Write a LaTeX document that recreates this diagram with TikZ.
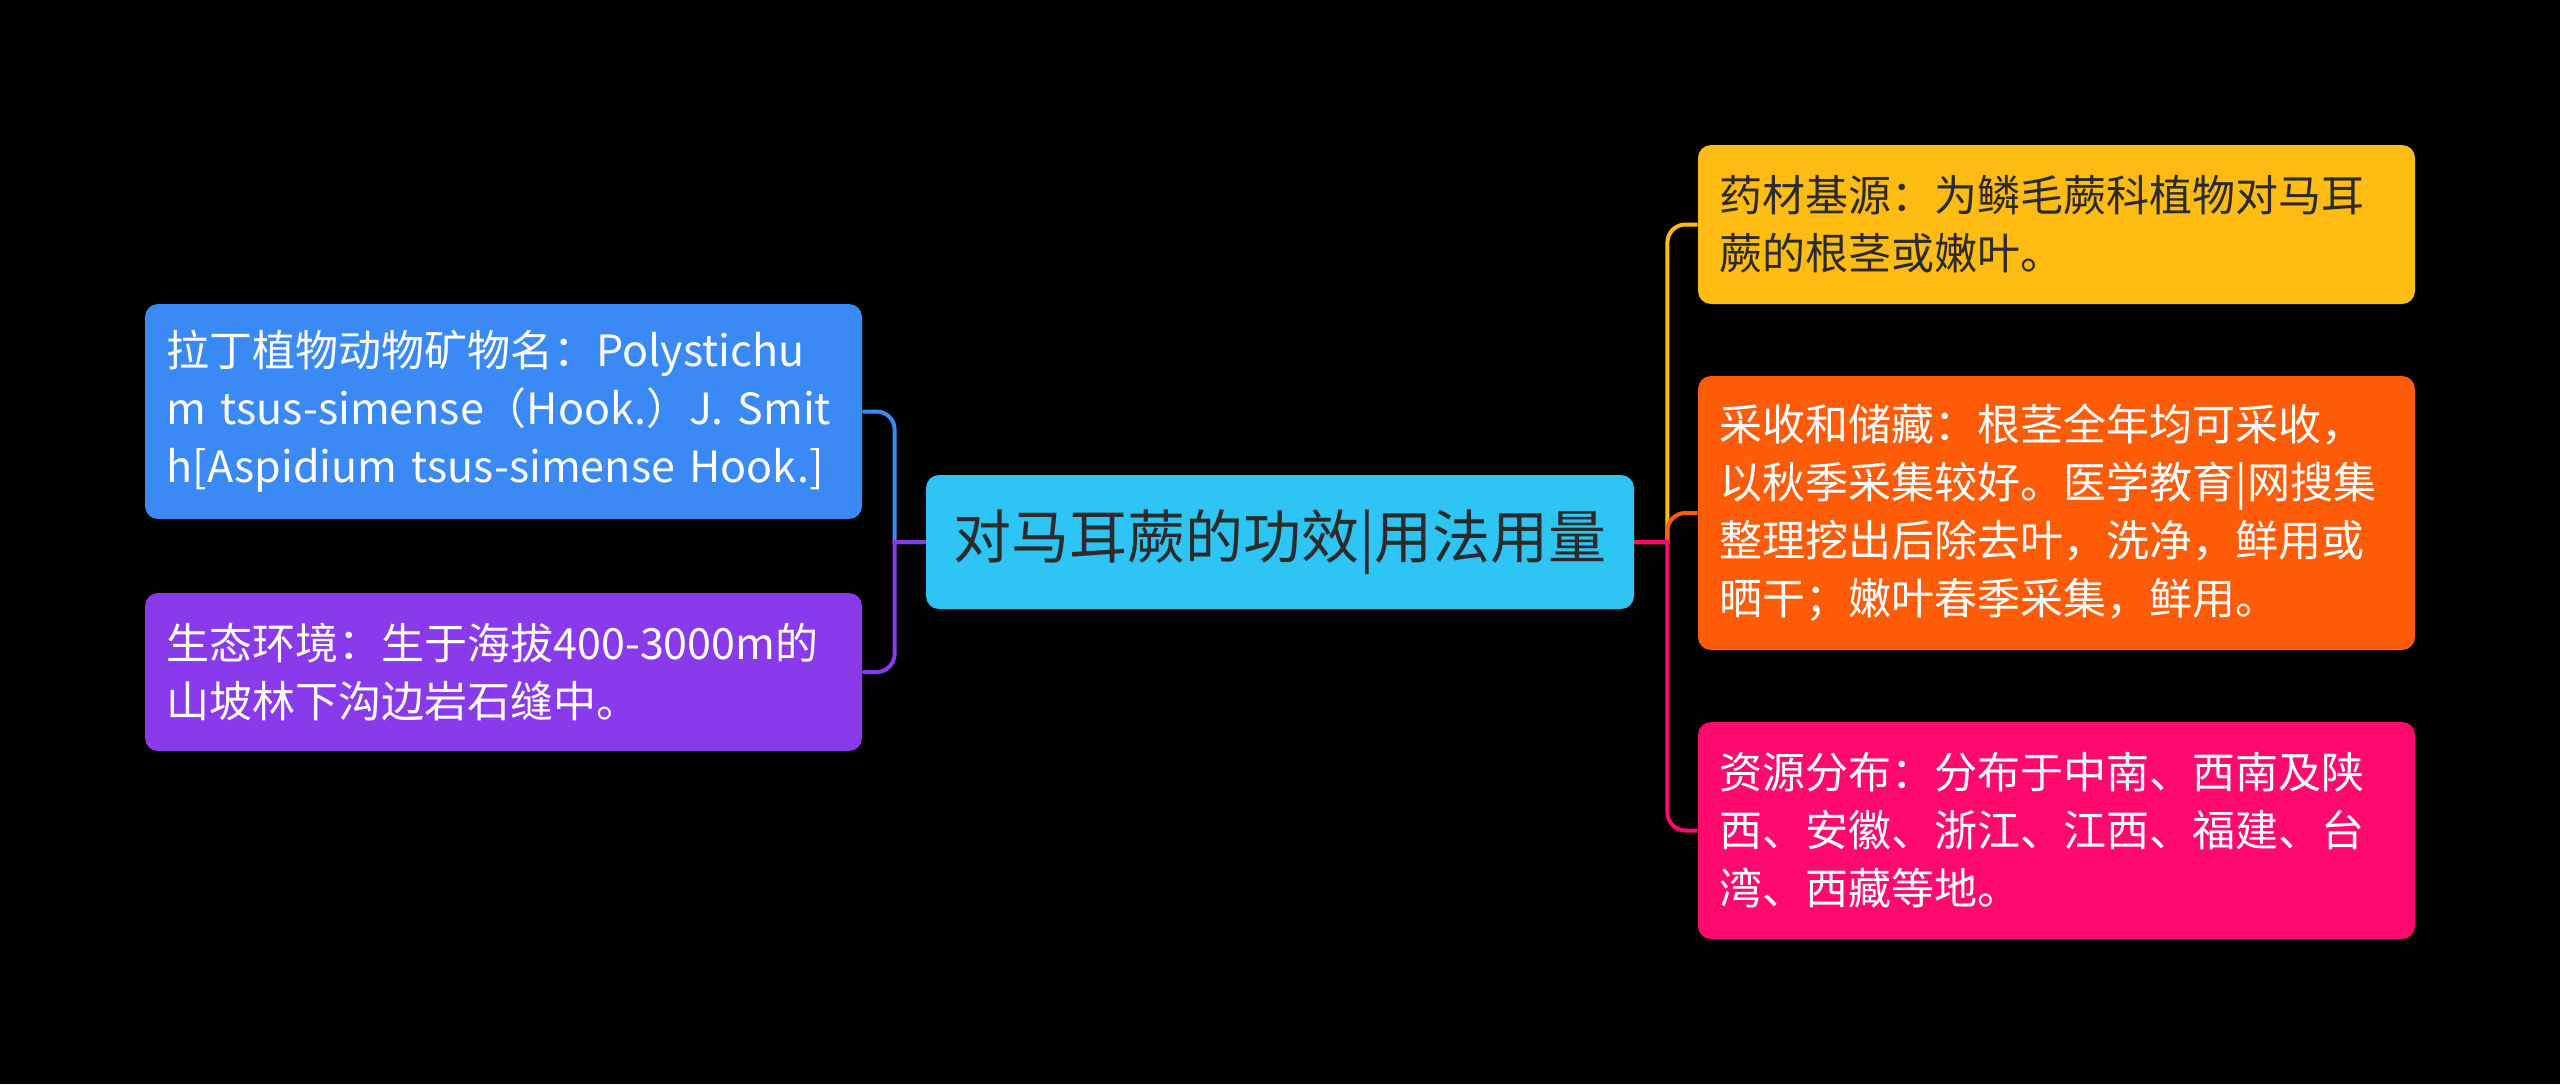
\documentclass[tikz,border=0pt]{standalone}
\usepackage{fontspec}
\setmainfont{Noto Sans CJK SC}
\definecolor{bg}{HTML}{000000}
\definecolor{cmain}{HTML}{2EC4F4}
\definecolor{cblue}{HTML}{3B89F5}
\definecolor{cpurple}{HTML}{893AEB}
\definecolor{camber}{HTML}{FFBD14}
\definecolor{corange}{HTML}{FF5C0A}
\definecolor{cpink}{HTML}{FF0A6E}
\definecolor{darktext}{HTML}{2B2B2B}
\tikzset{
  box/.style={rounded corners=6.5pt, minimum width=358.5pt, text width=337pt, inner sep=0pt, align=left,
    font=\fontsize{21.5}{29}\selectfont, text=white},
  mainbox/.style={rounded corners=6.5pt, fill=cmain, minimum width=354pt, minimum height=67pt,
    inner sep=0pt, font=\fontsize{29}{34}\selectfont, text=darktext},
  link/.style={line width=2pt}
}
\begin{document}
\begin{tikzpicture}[x=0.5pt,y=-0.5pt]
\fill[bg] (0,0) rectangle (2560,1084);
\useasboundingbox (0,0) rectangle (2560,1084);

\node[mainbox] (c) at (1280,542) {对马耳蕨的功效|用法用量};

\node[box, fill=cblue, minimum height=107.5pt] (l1) at (503.5,411.5)
  {拉丁植物动物矿物名：Polystichu\\m tsus-simense（Hook.）J. Smit\\h[Aspidium tsus-simense Hook.]};
\node[box, fill=cpurple, minimum height=79pt] (l2) at (503.5,672)
  {生态环境：生于海拔400-3000m的\\山坡林下沟边岩石缝中。};

\node[box, fill=camber, text=darktext, minimum height=79.5pt] (r1) at (2056.5,224.5)
  {药材基源：为鳞毛蕨科植物对马耳\\蕨的根茎或嫩叶。};
\node[box, fill=corange, minimum height=137pt] (r2) at (2056.5,513)
  {采收和储藏：根茎全年均可采收，\\以秋季采集较好。医学教育|网搜集\\整理挖出后除去叶，洗净，鲜用或\\晒干；嫩叶春季采集，鲜用。};
\node[box, fill=cpink, minimum height=108.5pt] (r3) at (2056.5,830.5)
  {资源分布：分布于中南、西南及陕\\西、安徽、浙江、江西、福建、台\\湾、西藏等地。};

\draw[link, cblue] (c.west) -- ++(-31,0) [rounded corners=9pt] |- (l1.east);
\draw[link, cpurple] (c.west) -- ++(-31,0) [rounded corners=9pt] |- (l2.east);

\draw[link, camber] (c.east) -- ++(33,0) [rounded corners=9pt] |- (r1.west);
\draw[link, corange] (c.east) -- ++(33,0) [rounded corners=9pt] |- (r2.west);
\draw[link, cpink] (c.east) -- ++(33,0) [rounded corners=9pt] |- (r3.west);
\end{tikzpicture}
\end{document}
